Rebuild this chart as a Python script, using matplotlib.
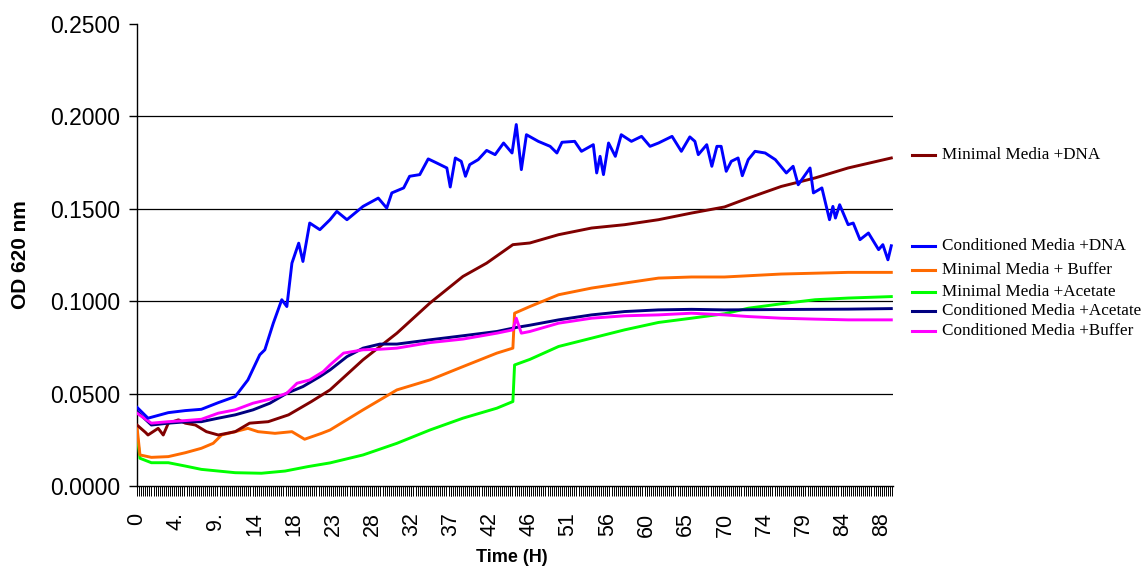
"""
OD 620 growth curves for minimal / conditioned media treatments.
"""

import matplotlib
matplotlib.use("Agg")
import matplotlib.pyplot as plt
import numpy as np
from matplotlib.lines import Line2D


# time (h) and OD readings
min_dna_t = [0, 1.0, 1.3, 2.5, 3.1, 3.7, 4.9, 5.7, 6.9, 8.2, 9.6, 11.6, 13.3, 15.5, 17.9,
             20.6, 22.8, 26.7, 30.7, 34.6, 38.5, 41.3, 44.4, 46.4, 49.8, 53.7, 57.6,
             61.6, 65.5, 69.4, 72.2, 76.1, 80.1, 84.0, 89.1]
min_dna_v = [0.0330, 0.0290, 0.0276, 0.0312, 0.0276, 0.0340, 0.0358, 0.0340, 0.0330,
             0.0294, 0.0276, 0.0294, 0.0340, 0.0348, 0.0385, 0.0457, 0.0520, 0.0683,
             0.0827, 0.0990, 0.1134, 0.1206, 0.1306, 0.1315, 0.1360, 0.1396, 0.1414,
             0.1441, 0.1477, 0.1510, 0.1558, 0.1621, 0.1667, 0.1721, 0.1775]

cond_dna_t = [0, 1.3, 3.7, 5.7, 7.6, 9.6, 11.6, 13.1, 14.5, 15.1, 16.1, 17.1, 17.7, 18.3,
              19.1, 19.6, 20.4, 21.6, 22.8, 23.6, 24.8, 26.7, 28.5, 29.5, 30.1, 31.5,
              32.2, 33.4, 34.4, 35.4, 36.6, 37.0, 37.6, 38.3, 38.8, 39.3, 40.3, 41.3,
              42.3, 43.3, 44.3, 44.8, 45.4, 46.0, 47.4, 48.8, 49.6, 50.2, 51.7, 52.5,
              53.9, 54.3, 54.7, 55.1, 55.7, 56.5, 57.2, 58.4, 59.6, 60.6, 61.6, 63.2,
              64.3, 65.3, 65.9, 66.3, 67.3, 67.9, 68.5, 69.0, 69.6, 70.2, 71.0, 71.5,
              72.2, 73.0, 74.2, 75.4, 76.7, 77.5, 78.1, 79.5, 79.9, 80.9, 81.8, 82.2,
              82.5, 83.0, 84.0, 84.6, 85.4, 86.4, 87.6, 88.1, 88.7, 89.1]
cond_dna_v = [0.0426, 0.0367, 0.0397, 0.0408, 0.0415, 0.0451, 0.0484, 0.0574, 0.0710,
              0.0737, 0.0881, 0.1008, 0.0971, 0.1206, 0.1314, 0.1215, 0.1423, 0.1387,
              0.1441, 0.1486, 0.1441, 0.1513, 0.1558, 0.1504, 0.1586, 0.1613, 0.1676,
              0.1685, 0.1770, 0.1748, 0.1721, 0.1618, 0.1775, 0.1757, 0.1676, 0.1739,
              0.1766, 0.1816, 0.1793, 0.1856, 0.1802, 0.1956, 0.1712, 0.1901, 0.1865,
              0.1838, 0.1802, 0.1860, 0.1865, 0.1811, 0.1847, 0.1694, 0.1784, 0.1685,
              0.1856, 0.1784, 0.1901, 0.1865, 0.1892, 0.1838, 0.1856, 0.1892, 0.1811,
              0.1889, 0.1865, 0.1793, 0.1847, 0.1730, 0.1838, 0.1838, 0.1703, 0.1757,
              0.1775, 0.1679, 0.1766, 0.1811, 0.1802, 0.1766, 0.1694, 0.1730, 0.1630,
              0.1721, 0.1586, 0.1613, 0.1441, 0.1513, 0.1450, 0.1522, 0.1414, 0.1423,
              0.1333, 0.1369, 0.1279, 0.1306, 0.1224, 0.1300]

min_buf_t = [0, 0.35, 1.7, 3.7, 5.7, 7.6, 9.0, 10.0, 11.6, 13.1, 14.3, 16.3, 18.3, 19.8,
             21.8, 22.8, 26.7, 30.7, 34.6, 38.5, 42.5, 44.4, 44.6, 46.4, 49.8, 53.7,
             57.6, 61.6, 65.5, 69.4, 76.1, 84.0, 89.1]
min_buf_v = [0.0320, 0.0168, 0.0155, 0.0159, 0.0180, 0.0204, 0.0231, 0.0276, 0.0294,
             0.0312, 0.0294, 0.0285, 0.0294, 0.0253, 0.0285, 0.0303, 0.0412, 0.0520,
             0.0574, 0.0646, 0.0719, 0.0746, 0.0935, 0.0971, 0.1035, 0.1071, 0.1098,
             0.1125, 0.1131, 0.1131, 0.1147, 0.1156, 0.1156]

min_ace_t = [0, 0.35, 1.7, 3.7, 5.7, 7.6, 9.6, 11.6, 14.7, 17.5, 20.2, 22.8, 26.7, 30.7,
             34.6, 38.5, 42.5, 44.4, 44.6, 46.4, 49.8, 53.7, 57.6, 61.6, 65.5, 69.4,
             72.2, 76.1, 80.1, 84.0, 89.1]
min_ace_v = [0.0285, 0.0150, 0.0126, 0.0126, 0.0108, 0.0090, 0.0081, 0.0072, 0.0069,
             0.0081, 0.0105, 0.0125, 0.0168, 0.0231, 0.0303, 0.0367, 0.0421, 0.0457,
             0.0655, 0.0685, 0.0755, 0.0800, 0.0845, 0.0885, 0.0908, 0.0932, 0.0962,
             0.0986, 0.1008, 0.1017, 0.1025]

cond_ace_t = [0, 1.7, 3.7, 5.7, 7.6, 9.6, 11.6, 13.7, 15.7, 17.7, 19.6, 21.6, 22.8, 24.8,
              26.7, 28.7, 30.7, 34.6, 38.5, 42.5, 44.8, 46.4, 49.8, 53.7, 57.6, 61.6,
              65.5, 69.4, 76.1, 84.0, 89.1]
cond_ace_v = [0.0403, 0.0330, 0.0340, 0.0347, 0.0348, 0.0367, 0.0385, 0.0412, 0.0448,
              0.0502, 0.0538, 0.0592, 0.0628, 0.0700, 0.0746, 0.0768, 0.0768, 0.0791,
              0.0813, 0.0836, 0.0858, 0.0870, 0.0899, 0.0926, 0.0944, 0.0953, 0.0956,
              0.0953, 0.0955, 0.0957, 0.0960]

cond_buf_t = [0, 1.7, 3.7, 5.7, 7.6, 9.6, 11.6, 13.7, 15.7, 17.7, 18.9, 20.4, 22.0, 22.8,
              24.4, 26.7, 28.7, 30.7, 34.6, 38.5, 42.5, 44.4, 44.8, 45.4, 46.4, 49.8,
              53.7, 57.6, 61.6, 65.5, 69.4, 72.2, 76.1, 80.1, 84.0, 89.1]
cond_buf_v = [0.0394, 0.0340, 0.0348, 0.0354, 0.0361, 0.0394, 0.0412, 0.0448, 0.0470,
              0.0502, 0.0556, 0.0574, 0.0619, 0.0655, 0.0719, 0.0737, 0.0740, 0.0746,
              0.0776, 0.0795, 0.0827, 0.0845, 0.0908, 0.0827, 0.0836, 0.0881, 0.0908,
              0.0921, 0.0926, 0.0935, 0.0926, 0.0917, 0.0908, 0.0903, 0.0899, 0.0899]

series_names = ["Minimal Media +DNA", "Conditioned Media +DNA", "Minimal Media + Buffer",
                "Minimal Media +Acetate", "Conditioned Media +Acetate",
                "Conditioned Media +Buffer"]
series_colors = ["#800000", "#0000FF", "#FF6A00", "#00FF00", "#000080", "#FF00FF"]

x_labels = ["0", "4.", "9.", "14", "18", "23", "28", "32", "37", "42",
            "46", "51", "56", "60", "65", "70", "74", "79", "84", "88"]
label_step = 4.63      # hours between labelled categories
sample_step = 0.2437   # hours between readings (one tick each)
t_end = 89.3
y_ticks = [0.0, 0.05, 0.10, 0.15, 0.20, 0.25]


def main():
    fig = plt.figure(figsize=(11.44, 5.70), dpi=100)
    ax = fig.add_axes([137 / 1144, 84 / 570, 756 / 1144, 462 / 570])

    for yv in y_ticks[1:-1]:
        ax.axhline(yv, color="black", linewidth=0.9, zorder=1)

    # draw in reverse so the first series ends up on top like the original
    data = [(min_dna_t, min_dna_v), (cond_dna_t, cond_dna_v), (min_buf_t, min_buf_v),
            (min_ace_t, min_ace_v), (cond_ace_t, cond_ace_v), (cond_buf_t, cond_buf_v)]
    order = [3, 2, 0, 4, 5, 1]
    for i in order:
        t, v = data[i]
        ax.plot(t, v, color=series_colors[i], linewidth=2.1, zorder=3 + order.index(i),
                solid_joinstyle="round")

    ax.set_xlim(0, t_end)
    ax.set_ylim(0, 0.25)
    ax.spines["top"].set_visible(False)
    ax.spines["right"].set_visible(False)
    for s in ["left", "bottom"]:
        ax.spines[s].set_linewidth(1.0)

    ax.set_yticks(y_ticks)
    ax.set_yticklabels([f"{y:.4f}" for y in y_ticks], family="Liberation Sans", fontsize=16.5)
    ax.tick_params(axis="y", direction="out", length=6, width=1, pad=6)

    ax.set_xticks([i * label_step for i in range(len(x_labels))])
    ax.set_xticklabels(x_labels, rotation=90, family="Liberation Sans", fontsize=15.5)
    ax.set_xticks(np.arange(0, t_end, sample_step), minor=True)
    ax.tick_params(axis="x", which="both", direction="out", length=7, width=0.7, pad=12)

    fig.text(512 / 1144, 1 - 558 / 570, "Time (H)", ha="center", va="center",
             family="Liberation Sans", fontweight="bold", fontsize=13)
    fig.text(21 / 1144, 1 - 255 / 570, "OD 620 nm", ha="center", va="center", rotation=90,
             family="Liberation Sans", fontweight="bold", fontsize=15)

    legend_y = [155, 246, 270, 292, 311, 331]
    for name, col, yp in zip(series_names, series_colors, legend_y):
        fy = 1 - yp / 570
        fig.add_artist(Line2D([912 / 1144, 935 / 1144], [fy, fy], color=col, linewidth=2.2))
        fig.text(942 / 1144, fy, name, ha="left", va="center", family="Liberation Serif",
                 fontsize=12.3)

    fig.savefig("out.png", dpi=100)
    plt.close(fig)


if __name__ == "__main__":
    main()
